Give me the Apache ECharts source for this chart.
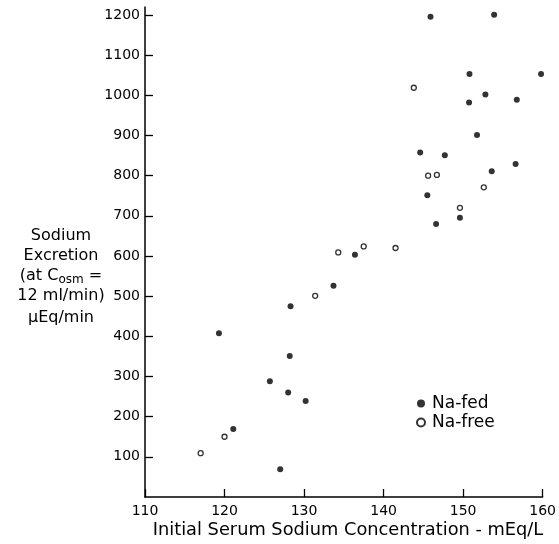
<!DOCTYPE html>
<html><head><meta charset="utf-8">
<script src="https://cdn.jsdelivr.net/npm/echarts@6/dist/echarts.min.js"></script>
<style>html,body{margin:0;padding:0;background:#fff}#c{width:559px;height:544px}</style>
</head><body><div id="c"></div>
<script>
const xTicks = [110, 120, 130, 140, 150, 160];
const yTicks = [100, 200, 300, 400, 500, 600, 700, 800, 900, 1000, 1100, 1200];
const fedX = [145.9, 153.9, 150.8, 159.8, 152.8, 150.75, 156.75, 151.75, 144.6, 147.7, 156.6, 153.6, 145.5, 149.6, 146.6, 136.4, 133.7, 128.3, 119.3, 128.2, 125.7, 128.0, 130.2, 121.1, 127.0];
const fedY = [1196, 1201, 1053, 1053, 1002, 982, 989, 901, 858, 851, 829, 811, 751, 695, 680, 603, 526, 475, 408, 351, 288, 260, 239, 169, 69];
const freeX = [143.8, 145.6, 146.7, 152.6, 149.6, 134.3, 137.5, 141.5, 131.4, 120.0, 117.0];
const freeY = [1019, 800, 802, 771, 720, 609, 624, 620, 501, 150, 109];
const seriesNames = ['Na-fed', 'Na-free'];
const yTitleLines = ['Sodium', 'Excretion', '(at C{s|osm} =', '12 ml/min)', 'μEq/min'];
const xTitle = 'Initial Serum Sodium Concentration - mEq/L';

const ink = '#000';
const font = 'DejaVu Sans';
const chart = echarts.init(document.getElementById('c'));
const zip = (a, b) => a.map((v, i) => [v, b[i]]);
const graphics = yTitleLines.map((t, i) => ({
  type: 'text', position: [61, 236 + i * 20 + (i === 4 ? 2 : 0)],
  style: {
    text: t, x: 0, y: 0, fill: ink, font: '16px "' + font + '"',
    textAlign: 'center', textVerticalAlign: 'middle',
    rich: { s: { fontSize: 12, fontFamily: font, fill: ink, padding: [7, 0, 0, 0] } }
  }
}));
graphics.push({
  type: 'text', position: [348, 530],
  style: { text: xTitle, fill: ink, font: '17.8px "' + font + '"', textAlign: 'center', textVerticalAlign: 'middle' }
});
chart.setOption({
  animation: false,
  backgroundColor: '#fff',
  grid: { left: 145, right: 14, top: 7, bottom: 47 },
  xAxis: {
    type: 'value', min: 110, max: 160, interval: 10,
    axisLine: { lineStyle: { color: ink, width: 1.5 } },
    axisTick: { inside: true, length: 8, lineStyle: { color: ink, width: 1.3 } },
    axisLabel: { color: ink, fontFamily: font, fontSize: 14, margin: 7, customValues: xTicks, formatter: v => String(v) },
    splitLine: { show: false }
  },
  yAxis: {
    type: 'value', min: 0, max: 1220,
    axisLine: { show: true, lineStyle: { color: ink, width: 1.5 } },
    axisTick: { show: true, inside: true, length: 8, customValues: yTicks, lineStyle: { color: ink, width: 1.3 } },
    axisLabel: { color: ink, fontFamily: font, fontSize: 14, margin: 5, customValues: yTicks, formatter: v => String(v) },
    splitLine: { show: false }
  },
  legend: {
    orient: 'vertical', left: 411, top: 390, itemWidth: 12, itemHeight: 8, itemGap: 2,
    textStyle: { color: ink, fontFamily: font, fontSize: 17 },
    data: [{ name: seriesNames[0], icon: 'circle' }, { name: seriesNames[1], icon: 'circle' }]
  },
  graphic: graphics,
  series: [
    { name: seriesNames[0], type: 'scatter', data: zip(fedX, fedY), symbol: 'circle', symbolSize: 6,
      itemStyle: { color: ink } },
    { name: seriesNames[1], type: 'scatter', data: zip(freeX, freeY), symbol: 'circle', symbolSize: 5,
      itemStyle: { color: '#fff', borderColor: ink, borderWidth: 1.3 } }
  ]
});
</script></body></html>
